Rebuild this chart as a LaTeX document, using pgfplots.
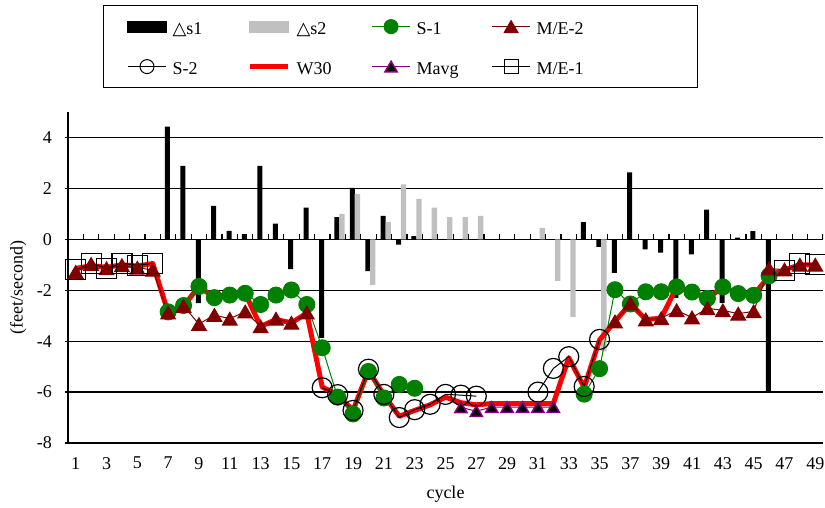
\documentclass[border=0pt]{standalone}
\usepackage{fontspec}
\setmainfont{Liberation Serif}
\newfontfamily\dejavu{DejaVu Sans}
\usepackage{pgfplots}
\pgfplotsset{compat=1.18}
\definecolor{xlgreen}{RGB}{0,128,0}
\definecolor{xldarkred}{RGB}{128,0,0}
\definecolor{xlgray}{RGB}{192,192,192}
\definecolor{xlpurple}{RGB}{128,0,128}
\newcommand{\lt}[2][81pt]{\makebox[#1][l]{\hspace{6pt}#2}}
\begin{document}
\fontsize{18}{21.6}\selectfont
\begin{tikzpicture}
\begin{axis}[
  at={(68pt,-443pt)}, anchor=south west,
  scale only axis, width=755pt, height=331pt,
  xmin=0.5, xmax=49.5, ymin=-8, ymax=5,
  axis lines*=left,
  axis line style={black, line width=1.2pt},
  xtick={1,3,...,49},
  ytick={-8,-6,...,4},
  ymajorgrids, major grid style={black, line width=1.2pt},
  xtick style={draw=none},
  ytick style={black, line width=1.2pt},
  tick align=outside, major tick length=3pt,
  /pgf/number format/assume math mode=true,
  tick label style={font=\fontsize{18}{21.6}\selectfont},
  xticklabel style={yshift=-5pt},
  yticklabel style={xshift=-7pt},
  xlabel={cycle}, ylabel={(feet/second)},
  label style={font=\fontsize{18}{21.6}\selectfont},
  xlabel style={at={(axis description cs:0.5,-0.156)}, anchor=center},
  ylabel style={at={(axis description cs:-0.066,0.47)}, anchor=center},
  legend columns=4,
  legend style={at={(axis description cs:0.4404,1.3233)}, anchor=north,
    draw=black, line width=1.2pt, inner xsep=24pt, inner ysep=2pt,
    column sep=0pt, row sep=2pt,
    nodes={inner sep=0pt, anchor=west, font=\fontsize{18}{21.6}\selectfont, text height=27pt, text depth=11pt}},
  legend cell align=left,
  legend image code/.code={\draw[mark repeat=2,mark phase=2,#1] plot coordinates {(0pt,0pt) (19pt,0pt) (38pt,0pt)};},
]
% legend images
\addlegendimage{legend image code/.code={\fill[black] (0pt,-5.5pt) rectangle (38pt,5.5pt);}}
\addlegendentry{\lt{{\dejavu △}s1}}
\addlegendimage{legend image code/.code={\fill[xlgray] (0pt,-5.5pt) rectangle (38pt,5.5pt);}}
\addlegendentry{\lt{{\dejavu △}s2}}
\addlegendimage{xlgreen, line width=1pt, mark=*, mark size=7pt}
\addlegendentry{\lt{S-1}}
\addlegendimage{xldarkred, line width=1pt, mark=triangle*, mark size=8pt, mark options={yshift=-2pt}}
\addlegendentry{\lt[143pt]{M/E-2}}
\addlegendimage{black, line width=1pt, mark=o, mark size=7pt}
\addlegendentry{\lt{S-2}}
\addlegendimage{red, line width=5pt}
\addlegendentry{\lt{W30}}
\addlegendimage{xlpurple, line width=1pt, mark=triangle*, mark size=7pt, mark options={fill=black, draw=xlpurple, line width=1.5pt, yshift=-1.7pt}}
\addlegendentry{\lt{Mavg}}
\addlegendimage{black, line width=1pt, mark=square, mark size=7pt}
\addlegendentry{\lt[143pt]{M/E-1}}

% bars
\addplot[ybar, bar width=5pt, bar shift=-0.7pt, fill=black, draw=none, forget plot] coordinates {
(7,4.43) (8,2.88) (9,-2.51) (10,1.31) (11,0.33) (12,0.2) (13,2.88) (14,0.62) (15,-1.17) (16,1.24)
(17,-3.87) (18,0.87) (19,2.02) (20,-1.25) (21,0.92) (22,-0.21) (23,0.13)
(34,0.68) (35,-0.3) (36,-1.32) (37,2.63) (38,-0.39) (39,-0.52) (40,-2.3) (41,-0.59) (42,1.17)
(43,-2.5) (44,0.07) (45,0.32) (46,-5.95)};
\addplot[ybar, bar width=5.3pt, bar shift=4.3pt, fill=xlgray, draw=none, forget plot] coordinates {
(18,1.0) (19,1.78) (20,-1.8) (21,0.68) (22,2.16) (23,1.59) (24,1.24) (25,0.87) (26,0.87) (27,0.92)
(31,0.45) (32,-1.63) (33,-3.05) (35,-4.4)};

% ticks on the zero line
\pgfplotsinvokeforeach{0.5,1.5,...,49.5}{\draw[black, line width=1.2pt] (axis cs:#1,0) -- ++(0pt,5pt);}

% W30
\addplot[red, line width=5pt, line join=round, forget plot] coordinates {
(1,-1.15) (2,-1.03) (3,-1.1) (4,-1.0) (5,-1.05) (6,-0.95) (7,-2.88) (8,-2.62) (9,-1.85) (10,-2.29)
(11,-2.19) (12,-2.12) (13,-3.42) (14,-3.15) (15,-3.28) (16,-2.9) (17,-5.8) (18,-6.12) (19,-6.72) (20,-5.15)
(21,-6.12) (22,-6.95) (23,-6.72) (24,-6.5) (25,-6.2) (26,-6.42) (27,-6.5) (28,-6.45) (29,-6.45) (30,-6.45)
(31,-6.45) (32,-6.45) (33,-4.65) (34,-5.82) (35,-3.95) (36,-3.22) (37,-2.53) (38,-3.15) (39,-3.1) (40,-1.87)
(41,-2.07) (42,-2.32) (43,-1.87) (44,-2.13) (45,-2.2) (46,-1.43) (47,-1.2) (48,-1.0) (49,-1.0)};

% S-1
\addplot[xlgreen, line width=1pt, mark=*, mark size=8pt, forget plot] coordinates {
(7,-2.85) (8,-2.6) (9,-1.85) (10,-2.29) (11,-2.19) (12,-2.12) (13,-2.56) (14,-2.19) (15,-1.99) (16,-2.56)
(17,-4.26) (18,-6.2) (19,-6.86) (20,-5.19) (21,-6.23) (22,-5.7) (23,-5.85)};
\addplot[xlgreen, line width=1pt, mark=*, mark size=8pt, forget plot] coordinates {
(34,-6.08) (35,-5.08) (36,-1.98) (37,-2.54) (38,-2.06) (39,-2.06) (40,-1.87) (41,-2.07) (42,-2.32)
(43,-1.87) (44,-2.13) (45,-2.2) (46,-1.43)};

% M/E-2
\addplot[xldarkred, line width=1pt, mark=triangle*, mark size=8.5pt, mark options={yshift=-2.1pt}, forget plot] coordinates {
(1,-1.28) (2,-0.97) (3,-1.14) (4,-1.02) (5,-1.12) (6,-1.2) (7,-2.88) (8,-2.62) (9,-3.33) (10,-2.97)
(11,-3.12) (12,-2.84) (13,-3.42) (14,-3.12) (15,-3.28) (16,-2.88)};
\addplot[xldarkred, line width=1pt, mark=triangle*, mark size=8.5pt, mark options={yshift=-2.1pt}, forget plot] coordinates {
(36,-3.23) (37,-2.52) (38,-3.15) (39,-3.1) (40,-2.79) (41,-3.07) (42,-2.71) (43,-2.79) (44,-2.92)
(45,-2.83) (46,-1.15) (47,-1.19) (48,-1.0) (49,-1.0)};

% M/E-1
\addplot[black, line width=1pt, mark=square, mark size=10pt, mark options={line width=1.2pt}, forget plot] coordinates {
(1,-1.2) (2,-0.94) (3,-1.14) (4,-0.94) (5,-1.02) (6,-0.94)};
\addplot[black, line width=1pt, mark=square, mark size=10pt, mark options={line width=1.2pt}, forget plot] coordinates {
(47,-1.24) (48,-0.94) (49,-0.99)};

% S-2
\addplot[black, line width=1pt, mark=o, mark size=10pt, mark options={line width=1.2pt}, forget plot] coordinates {
(17,-5.83) (18,-6.1) (19,-6.72) (20,-5.1) (21,-6.09) (22,-7.0) (23,-6.69) (24,-6.48) (25,-6.09)
(26,-6.12) (27,-6.16)};
\addplot[black, line width=1pt, mark=o, mark size=10pt, mark options={line width=1.2pt}, forget plot] coordinates {
(31,-6.0) (32,-5.07) (33,-4.61) (34,-5.78) (35,-3.93)};

% Mavg
\addplot[xlpurple, line width=1pt, mark=triangle*, mark size=7pt, mark options={fill=black, draw=xlpurple, line width=1.5pt, yshift=-1.7pt}, forget plot] coordinates {
(26,-6.6) (27,-6.75) (28,-6.59) (29,-6.59) (30,-6.59) (31,-6.59) (32,-6.59)};
\end{axis}
\pgfresetboundingbox
\path (0pt,-507pt) rectangle (825pt,0pt);
\end{tikzpicture}
\end{document}
